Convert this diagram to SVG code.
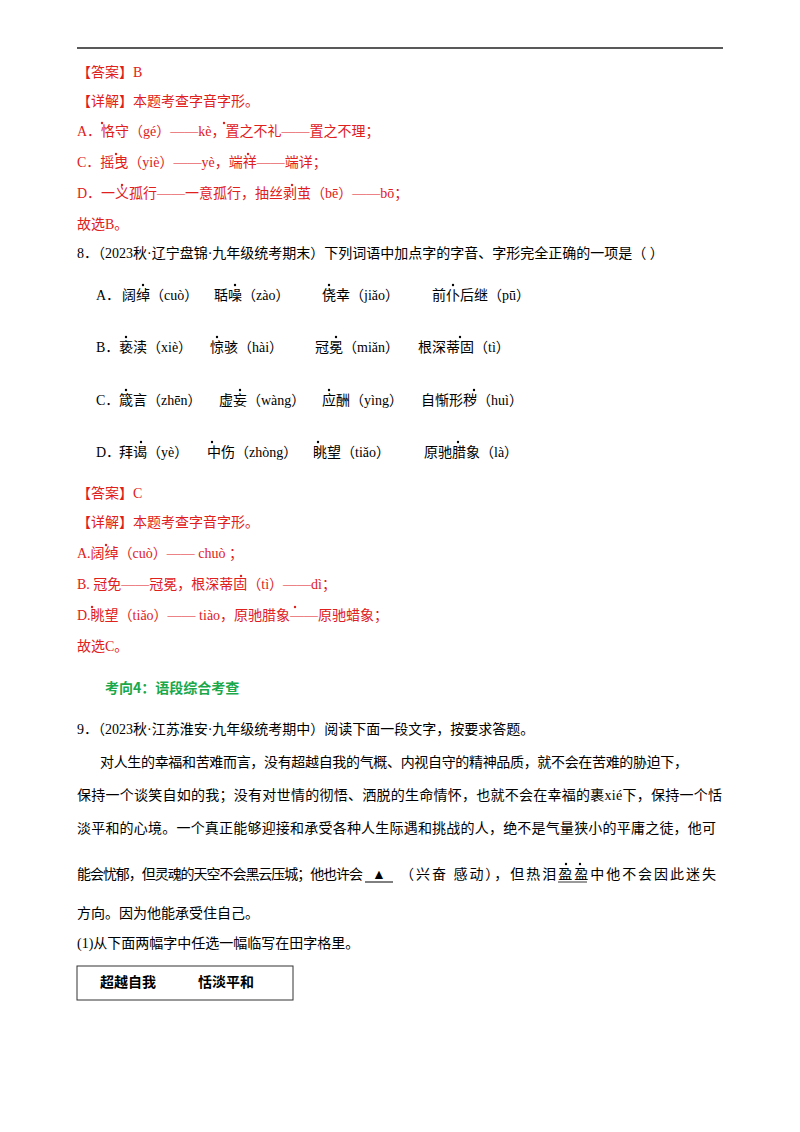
<svg xmlns="http://www.w3.org/2000/svg" width="800" height="1132" viewBox="0 0 800 1132">
<style>
text{font-family:"Liberation Serif","Noto Sans CJK SC",serif;font-size:14px;fill:#000}
.r{fill:#e0201c}
.g{fill:#1aa84a;font-weight:bold;font-family:"Noto Sans CJK SC",sans-serif}
.d{fill:#000}
.dr{fill:#e0201c}
</style>
<rect width="800" height="1132" fill="#fff"/>
<line x1="77" y1="48" x2="723" y2="48" stroke="#222" stroke-width="1.5"/>
<g id="answer7">
<text class="r" x="77" y="77">【答案】B</text>
<text class="r" x="77" y="106">【详解】本题考查字音字形。</text>
<text class="r" x="77" y="136">A．恪守（gé）——kè，置之不礼——置之不理；</text>
<text class="r" x="77" y="167">C．摇曳（yiè）——yè，端祥——端详；</text>
<text class="r" x="77" y="198">D．一义孤行——一意孤行，抽丝剥茧（bē）——bō；</text>
<text class="r" x="77" y="229">故选B。</text>
<circle class="dr" cx="102" cy="123" r="1.2"/><circle class="dr" cx="224" cy="123" r="1.2"/>
<circle class="dr" cx="116" cy="154" r="1.2"/><circle class="dr" cx="248" cy="154" r="1.2"/>
<circle class="dr" cx="122" cy="185" r="1.2"/><circle class="dr" cx="292" cy="185" r="1.2"/>
</g>
<g id="q8">
<text x="77" y="258">8．（2023秋·辽宁盘锦·九年级统考期末）下列词语中加点字的字音、字形完全正确的一项是（    ）</text>
<text x="96" y="300">A．</text><text x="122" y="300">阔绰（cuò）</text><text x="214" y="300">聒噪（zào）</text><text x="322" y="300">侥幸（jiǎo）</text><text x="432" y="300">前仆后继（pū）</text>
<text x="96" y="352">B．</text><text x="119" y="352">亵渎（xiè）</text><text x="210" y="352">惊骇（hài）</text><text x="315" y="352">冠冕（miǎn）</text><text x="418" y="352">根深蒂固（tì）</text>
<text x="96" y="405">C．</text><text x="119" y="405">箴言（zhēn）</text><text x="219" y="405">虚妄（wàng）</text><text x="322" y="405">应酬（yìng）</text><text x="421" y="405">自惭形秽（huì）</text>
<text x="96" y="457">D．</text><text x="119" y="457">拜谒（yè）</text><text x="207" y="457">中伤（zhòng）</text><text x="313" y="457">眺望（tiǎo）</text><text x="424" y="457">原驰腊象（là）</text>
<circle class="d" cx="143" cy="285" r="1.2"/><circle class="d" cx="235" cy="285" r="1.2"/><circle class="d" cx="329" cy="285" r="1.2"/><circle class="d" cx="453" cy="285" r="1.2"/>
<circle class="d" cx="126" cy="337" r="1.2"/><circle class="d" cx="217" cy="337" r="1.2"/><circle class="d" cx="336" cy="337" r="1.2"/><circle class="d" cx="460" cy="337" r="1.2"/>
<circle class="d" cx="126" cy="390" r="1.2"/><circle class="d" cx="240" cy="390" r="1.2"/><circle class="d" cx="329" cy="390" r="1.2"/><circle class="d" cx="474" cy="390" r="1.2"/>
<circle class="d" cx="141" cy="442" r="1.2"/><circle class="d" cx="212" cy="442" r="1.2"/><circle class="d" cx="318" cy="442" r="1.2"/><circle class="d" cx="458" cy="442" r="1.2"/>
</g>
<g id="answer8">
<text class="r" x="77" y="498">【答案】C</text>
<text class="r" x="77" y="527">【详解】本题考查字音字形。</text>
<text class="r" x="77" y="558">A.阔绰（cuò）—— chuò ；</text>
<text class="r" x="77" y="589">B. 冠免——冠冕，根深蒂固（tì）——dì；</text>
<text class="r" x="77" y="620">D.眺望（tiǎo）—— tiào，原驰腊象——原驰蜡象；</text>
<text class="r" x="77" y="651">故选C。</text>
<circle class="dr" cx="106" cy="545" r="1.2"/><circle class="dr" cx="241" cy="576" r="1.2"/>
<circle class="dr" cx="92" cy="607" r="1.2"/><circle class="dr" cx="295" cy="607" r="1.2"/>
</g>
<text class="g" x="105" y="693" font-size="15">考向4：语段综合考查</text>
<g id="q9">
<text x="77" y="734">9．（2023秋·江苏淮安·九年级统考期中）阅读下面一段文字，按要求答题。</text>
<text x="100" y="767" textLength="588" lengthAdjust="spacing">对人生的幸福和苦难而言，没有超越自我的气概、内视自守的精神品质，就不会在苦难的胁迫下，</text>
<text x="77" y="800" textLength="645" lengthAdjust="spacing">保持一个谈笑自如的我；没有对世情的彻悟、洒脱的生命情怀，也就不会在幸福的裹xié下，保持一个恬</text>
<text x="77" y="833" textLength="639" lengthAdjust="spacing">淡平和的心境。一个真正能够迎接和承受各种人生际遇和挑战的人，绝不是气量狭小的平庸之徒，他可</text>
<text x="77" y="879" textLength="286" lengthAdjust="spacing">能会忧郁，但灵魂的天空不会黑云压城；他也许会</text>
<text x="372" y="879" font-size="15">▲</text>
<line x1="365" y1="882" x2="393" y2="882" stroke="#000"/>
<text x="400" y="879" textLength="316" lengthAdjust="spacing">（兴奋 感动），但热泪盈盈中他不会因此迷失</text>
<line x1="558" y1="882" x2="587" y2="882" stroke="#000" stroke-width="0.8"/>
<circle class="d" cx="566" cy="864" r="1.2"/><circle class="d" cx="580" cy="864" r="1.2"/>
<text x="77" y="918">方向。因为他能承受住自己。</text>
<text x="77" y="948">(1)从下面两幅字中任选一幅临写在田字格里。</text>
<rect x="77" y="966" width="216" height="34" fill="#fff" stroke="#333" stroke-width="1"/>
<text x="100" y="987" font-weight="bold" font-size="13">超越自我</text>
<text x="198" y="987" font-weight="bold" font-size="14">恬淡平和</text>
</g>
</svg>
